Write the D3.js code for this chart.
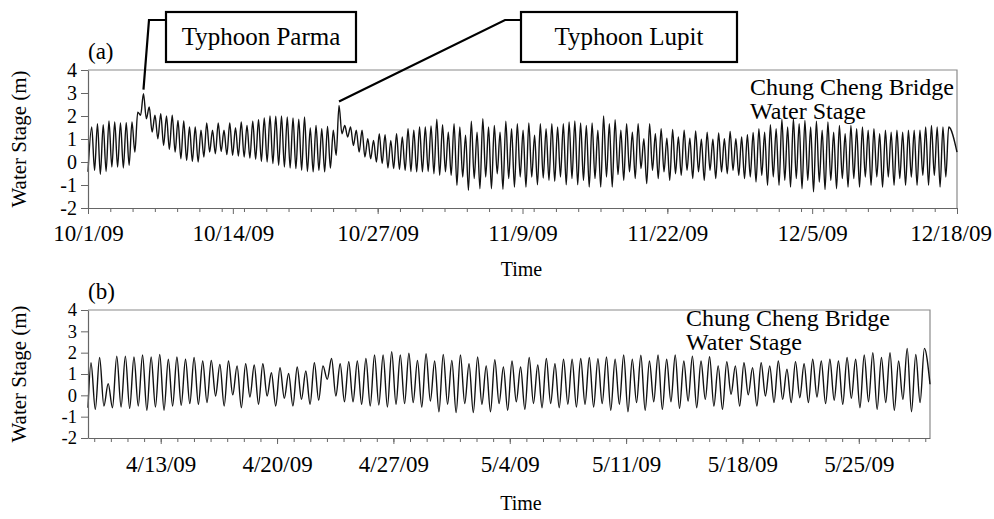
<!DOCTYPE html>
<html><head><meta charset="utf-8">
<script src="https://cdn.jsdelivr.net/npm/d3@7"></script>
<style>
body{margin:0;background:#fff}
svg{display:block}
text{font-family:"Liberation Serif","Times New Roman",serif;fill:#000}
</style>
</head><body><svg id="c" width="994" height="519"></svg>
<script>
// ---------------- data ----------------
const yTicks = [-2,-1,0,1,2,3,4];
const labelsA = ["10/1/09","10/14/09","10/27/09","11/9/09","11/22/09","12/5/09","12/18/09"];
const labelsB = ["4/13/09","4/20/09","4/27/09","5/4/09","5/11/09","5/18/09","5/25/09"];

// panel (a): successive tidal highs and lows (m), Oct 1 - Dec 18 2009
const highsA = [
 1.52,1.67,1.62,1.78,1.74,1.70,1.71,1.74,2.17,2.97,2.39,2.03,2.10,2.00,2.03,1.81,1.78,1.52,1.52,1.38,
 1.70,1.38,1.70,1.38,1.70,1.49,1.74,1.59,1.77,1.84,1.91,2.00,1.99,2.00,1.96,1.91,1.86,1.96,
 1.48,1.59,1.45,1.55,1.38,2.46,1.59,1.52,1.38,1.38,1.01,0.94,1.23,1.19,0.94,1.23,1.09,1.45,1.38,1.52,
 1.52,1.57,1.86,1.62,1.30,1.67,1.52,1.16,1.77,1.30,1.88,1.52,1.59,1.30,1.77,1.45,
 1.67,1.38,1.70,1.16,1.67,1.45,1.67,1.52,1.67,1.74,1.78,1.70,1.59,1.70,1.38,2.00,1.67,1.84,1.38,1.67,
 1.30,1.67,1.01,1.67,1.23,1.45,1.04,1.41,1.09,1.38,1.04,1.35,0.99,1.30,0.99,1.26,1.01,1.33,
 1.01,1.09,1.19,1.28,1.45,1.30,1.62,1.45,1.86,1.52,1.88,1.67,1.81,1.52,1.77,1.38,1.74,1.30,1.59,1.23,
 1.59,1.45,1.52,1.38,1.45,1.23,1.38,1.30,1.38,1.30,1.38,1.38,1.38,1.52,1.59,1.52,1.52,1.52
];
const lowsA = [
 -0.43,
 -0.36,-0.54,-0.41,-0.22,-0.22,-0.26,-0.14,0.43,2.03,1.88,1.30,1.01,0.72,0.55,0.43,0.14,0.07,0.03,0.00,
 0.22,0.43,0.36,0.46,0.32,0.29,0.26,0.22,0.17,0.12,0.03,0.00,-0.07,-0.14,-0.22,-0.26,-0.29,-0.36,
 -0.41,-0.43,-0.36,-0.43,-0.26,0.29,1.23,1.09,0.72,0.43,0.22,0.14,0.00,-0.07,-0.26,-0.29,-0.32,-0.36,
 -0.41,-0.43,-0.43,-0.41,-0.51,-0.58,-0.43,-0.58,-1.01,-0.65,-1.23,-0.72,-1.16,-0.65,-1.16,-0.51,-1.19,-0.72,-1.09,
 -0.65,-1.09,-0.65,-0.99,-0.70,-0.80,-0.84,-0.65,-0.99,-0.72,-0.99,-0.80,-1.09,-0.72,-1.09,-0.65,-1.09,-0.55,-0.80,
 -0.43,-0.72,-0.29,-0.94,-0.36,-0.72,-0.43,-0.80,-0.51,-0.58,-0.36,-0.72,-0.43,-0.80,-0.36,-0.72,-0.43,-0.51,-0.36,
 -0.58,-0.72,-0.65,-0.87,-0.58,-1.01,-0.65,-1.01,-0.80,-1.09,-0.72,-1.16,-0.80,-1.30,-0.87,-1.20,-0.80,-1.16,-0.72,
 -1.09,-0.72,-1.09,-0.65,-1.01,-0.65,-1.09,-0.65,-1.01,-0.72,-1.01,-0.65,-1.01,-0.58,-1.01,-0.58,-1.09,-0.65,
 0.43
];

// panel (b): successive tidal highs and lows (m), Apr 8 - May 29 2009
const highsB = [
 1.53,1.77,0.55,1.84,1.84,1.80,1.89,1.80,1.92,1.69,1.80,1.69,1.77,1.61,1.64,1.45,1.61,1.38,1.48,1.42,1.48,1.06,1.30,1.02,1.33,
 1.14,1.53,1.38,1.73,1.48,1.58,1.61,1.73,1.89,1.89,2.05,1.89,1.97,1.64,1.95,1.61,1.92,1.64,1.89,1.48,1.80,1.38,1.67,1.33,
 1.61,1.33,1.77,1.42,1.73,1.48,1.69,1.69,1.73,1.77,1.72,1.80,1.69,1.89,1.69,1.88,1.61,1.89,1.69,1.89,1.61,1.84,1.61,1.81,1.38,
 1.58,1.38,1.53,1.30,1.53,1.38,1.61,1.22,1.58,1.48,1.69,1.61,1.69,1.61,1.77,1.69,1.89,2.00,1.77,2.00,1.61,2.20,1.92,2.20
];
const lowsB = [
 -0.58,
 -0.66,-0.50,-0.58,-0.55,-0.61,-0.50,-0.70,-0.55,-0.70,-0.50,-0.47,-0.39,-0.42,-0.34,-0.03,-0.50,0.02,-0.58,-0.08,-0.42,-0.03,-0.50,-0.14,-0.50,
 -0.19,-0.42,-0.23,0.75,-0.03,-0.30,-0.30,-0.42,-0.50,-0.45,-0.55,-0.42,-0.39,-0.34,-0.55,-0.27,-0.77,-0.42,-0.81,-0.39,-0.81,-0.42,-0.77,-0.39,-0.70,
 -0.30,-0.66,-0.38,-0.58,-0.38,-0.58,-0.42,-0.55,-0.42,-0.55,-0.39,-0.70,-0.42,-0.77,-0.34,-0.70,-0.30,-0.66,-0.30,-0.61,-0.27,-0.58,-0.19,-0.50,
 -0.66,0.05,-0.50,0.02,-0.50,-0.03,-0.34,-0.19,-0.34,-0.11,-0.34,-0.08,-0.39,-0.23,-0.42,-0.14,-0.58,-0.30,-0.66,-0.34,-0.70,-0.19,-0.77,-0.34,
 0.52
];

// time frame of each record
const timeA = {start:"2009-10-01T00:00Z", end:"2009-12-18T00:00Z", firstHigh:"2009-10-01T08:00Z", periodHours:12.39};
const timeB = {start:"2009-04-08T15:00Z", end:"2009-05-29T06:50Z", firstHigh:"2009-04-08T19:20Z", periodHours:12.406};

// ---------------- drawing ----------------
const svg = d3.select("#c");
const parseLbl = d3.utcParse("%m/%d/%y");
const DATEFONT = 23;

function buildSeries(highs, lows, tm){
  const s = new Date(tm.start), e = new Date(tm.end);
  const t0 = +new Date(tm.firstHigh), P = tm.periodHours*3600e3;
  const n = highs.length, pts = [{t:s, v:lows[0]}];
  for(let i=0;i<n;i++){
    pts.push({t:new Date(t0+i*P), v:highs[i]});
    if(i<n-1 && lows[i+1]!==undefined) pts.push({t:new Date(t0+(i+0.5)*P), v:lows[i+1]});
  }
  pts.push({t:e, v:lows[lows.length-1]});
  return pts;
}

function panel(cfg){
  const g = svg.append("g");
  const x = d3.scaleUtc().domain([new Date(cfg.time.start), new Date(cfg.time.end)]).range([cfg.x0, cfg.x1]);
  const y = d3.scaleLinear().domain([-2,4]).range([cfg.y1, cfg.y0]);

  // frame (top + right)
  g.append("path").attr("d",`M${cfg.x0},${cfg.y0}H${cfg.x1}V${cfg.y1}`)
    .attr("fill","none").attr("stroke","#8a8a8a").attr("stroke-width",1.2);

  // series
  const pts = buildSeries(cfg.highs, cfg.lows, cfg.time);
  g.append("path").datum(pts)
    .attr("fill","none").attr("stroke","#111").attr("stroke-width",1.4)
    .attr("d", d3.line().x(d=>x(d.t)).y(d=>y(d.v)).curve(d3.curveMonotoneX));

  // minor x ticks
  const s = new Date(cfg.time.start), e = new Date(cfg.time.end);
  const minor = d3.range(0, 90, cfg.minorDays).map(d=>d3.utcDay.offset(d3.utcDay.ceil(s), d)).filter(d=>d<=e);
  g.append("g").attr("transform",`translate(0,${cfg.y1})`)
    .call(d3.axisBottom(x).tickValues(minor).tickSize(4).tickSizeOuter(0).tickFormat(""))
    .call(a=>a.select(".domain").attr("stroke","#666").attr("stroke-width",1.2))
    .call(a=>a.selectAll(".tick line").attr("stroke","#666"));

  // major x ticks + labels
  const majors = cfg.labels.map(parseLbl);
  g.append("g").attr("transform",`translate(0,${cfg.y1})`)
    .call(d3.axisBottom(x).tickValues(majors).tickSize(6).tickSizeOuter(0)
      .tickFormat((d,i)=>cfg.labels[i]))
    .call(a=>a.select(".domain").remove())
    .call(a=>a.selectAll(".tick line").attr("stroke","#666"))
    .call(a=>a.selectAll(".tick text").attr("font-size",DATEFONT).attr("dy",cfg.labelDy))
    .call(a=>a.selectAll(".tick text").each(function(){
      // keep the last label inside the picture
      const bb=this.getBBox(), m=this.parentNode.transform.baseVal.consolidate().matrix.e;
      const over = m+bb.x+bb.width-992;
      if(over>0) d3.select(this).attr("x",-over);
    }));

  // y axis
  g.append("g").attr("transform",`translate(${cfg.x0},0)`)
    .call(d3.axisLeft(y).tickValues(yTicks).tickSize(7).tickSizeOuter(0).tickFormat(d=>d<0?"-"+Math.abs(d):String(d)))
    .call(a=>a.select(".domain").attr("stroke","#666").attr("stroke-width",1.2))
    .call(a=>a.selectAll(".tick line").attr("stroke","#666"))
    .call(a=>a.selectAll(".tick text").attr("font-size",cfg.tickFont).attr("x",-11));

  // titles
  g.append("text").attr("transform",`translate(26,${(cfg.y0+cfg.y1)/2}) rotate(-90)`)
    .attr("text-anchor","middle").attr("font-size",21).text("Water Stage (m)");
  g.append("text").attr("x",(cfg.x0+cfg.x1)/2+(cfg.timeDx||0)).attr("y",cfg.timeY).attr("text-anchor","middle").attr("font-size",20).text("Time");
  g.append("text").attr("x",cfg.x0).attr("y",cfg.y0-11).attr("font-size",23).text(cfg.tag);
  g.append("text").attr("x",cfg.stX).attr("y",cfg.y0+cfg.stDy).attr("font-size",24).text("Chung Cheng Bridge");
  g.append("text").attr("x",cfg.stX).attr("y",cfg.y0+cfg.stDy+24).attr("font-size",24).text("Water Stage");
  return {x,y,pts};
}

const A = panel({highs:highsA, lows:lowsA, time:timeA, labels:labelsA, minorDays:2, tickFont:20,
  x0:88, x1:957, y0:70, y1:208, tag:"(a)", timeY:276, timeDx:-1, stX:750, stDy:25, labelDy:"1.05em"});
const B = panel({highs:highsB, lows:lowsB, time:timeB, labels:labelsB, minorDays:1, tickFont:18.5,
  x0:88, x1:930, y0:310, y1:438, tag:"(b)", timeY:510, timeDx:12, stX:686, stDy:16, labelDy:"1.1em"});

// typhoon annotations (leader ends at the storm peaks of panel (a))
function peakOf(d0,d1){
  const sub = A.pts.filter(p=>+p.t>=+new Date(d0) && +p.t<=+new Date(d1));
  return sub[d3.maxIndex(sub,p=>p.v)];
}
const parma = peakOf("2009-10-04T00:00Z","2009-10-08T00:00Z");
const lupit = peakOf("2009-10-20T00:00Z","2009-10-25T00:00Z");
const ann = svg.append("g");
function callout(peak, box, elbowX, label){
  ann.append("rect").attr("x",box[0]).attr("y",box[1]).attr("width",box[2]).attr("height",box[3])
    .attr("fill","#fff").attr("stroke","#000").attr("stroke-width",2.2);
  ann.append("text").attr("x",box[0]+box[2]/2).attr("y",box[1]+box[3]/2+8)
    .attr("text-anchor","middle").attr("font-size",25).text(label);
  ann.append("path").attr("d",`M${box[0]-1},${box[1]+8}H${elbowX}L${A.x(peak.t)},${A.y(peak.v)-4}`)
    .attr("fill","none").attr("stroke","#000").attr("stroke-width",2.2);
}
callout(parma,[166,12,190,50],149,"Typhoon Parma");
callout(lupit,[521,12,216,50],505,"Typhoon Lupit");
</script>
</body></html>
